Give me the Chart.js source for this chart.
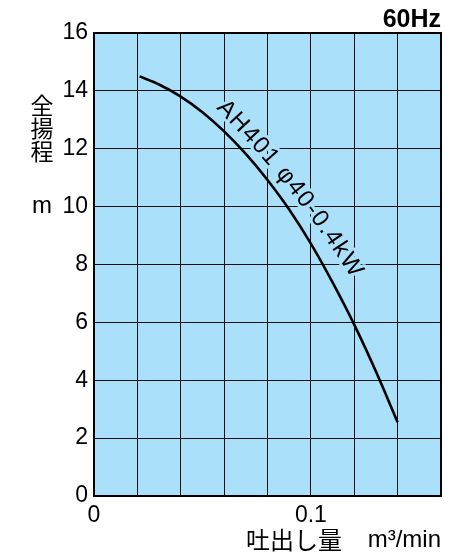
<!DOCTYPE html>
<html>
<head>
<meta charset="utf-8">
<script src="https://cdn.jsdelivr.net/npm/chart.js@4.4.1/dist/chart.umd.min.js"></script>
<style>
html,body{margin:0;padding:0;background:#fff;}
#wrap{width:460px;height:557px;position:relative;}
</style>
</head>
<body>
<div id="wrap"><canvas id="c" width="460" height="557"></canvas></div>
<script>
// ---- data ----
const flowX = [0.021, 0.03, 0.04, 0.05, 0.06, 0.07, 0.08, 0.09, 0.10, 0.11, 0.12, 0.13, 0.14];
const headY = [14.5, 14.22, 13.8, 13.26, 12.6, 11.82, 10.92, 9.9, 8.72, 7.38, 5.92, 4.3, 2.55];
const xLabelTicks = [0, 0.1];
const xLabelTexts = ['0', '0.1'];
const seriesLabel = 'AH401 φ40-0.4kW';
const yTitleChars = ['全', '揚', '程'];
const yUnit = 'm';
const xTitle = '吐出し量';
const xUnit = 'm³/min';
const freqLabel = '60Hz';

const BG = 'rgb(170,224,249)';
const LATIN = '"Liberation Sans", Arial, sans-serif';
const CJK = '"Noto Sans CJK JP", sans-serif';

const points = flowX.map((x, i) => ({x: x, y: headY[i]}));

const decor = {
  id: 'decor',
  beforeDraw(chart) {
    const {ctx, chartArea: a} = chart;
    ctx.save();
    ctx.fillStyle = BG;
    ctx.fillRect(a.left, a.top, a.right - a.left, a.bottom - a.top);
    ctx.restore();
  },
  beforeDatasetsDraw(chart) {
    const {ctx, scales} = chart;
    let px = scales.x.getPixelForValue(0.0562);
    let py = scales.y.getPixelForValue(13.40);
    const chars = Array.from(seriesLabel);
    const t0 = 46 * Math.PI / 180, t1 = 57 * Math.PI / 180;
    const sp = 1.4;
    ctx.save();
    ctx.font = '24px ' + LATIN;
    ctx.textBaseline = 'alphabetic';
    ctx.textAlign = 'left';
    ctx.lineJoin = 'round';
    chars.forEach((ch, i) => {
      const th = t0 + (t1 - t0) * i / (chars.length - 1);
      const w = ctx.measureText(ch).width;
      ctx.save();
      ctx.translate(px, py);
      ctx.rotate(th);
      ctx.strokeStyle = BG;
      ctx.lineWidth = 6;
      ctx.strokeText(ch, 0, 0);
      ctx.fillStyle = '#000';
      ctx.fillText(ch, 0, 0);
      ctx.restore();
      px += (w + sp) * Math.cos(th);
      py += (w + sp) * Math.sin(th);
    });
    ctx.restore();
  },
  afterDraw(chart) {
    const {ctx, chartArea: a} = chart;
    ctx.save();
    ctx.strokeStyle = '#000';
    ctx.lineWidth = 2;
    ctx.strokeRect(a.left, a.top, a.right - a.left, a.bottom - a.top);

    ctx.fillStyle = '#000';
    ctx.font = '23px ' + CJK;
    ctx.textAlign = 'center';
    ctx.textBaseline = 'middle';
    const ys = [105, 128, 151];
    yTitleChars.forEach((c, i) => ctx.fillText(c, 42, ys[i]));
    ctx.font = '24px ' + LATIN;
    ctx.fillText(yUnit, 42, 206);
    ctx.font = 'bold 25px ' + LATIN;
    ctx.textAlign = 'right';
    ctx.textBaseline = 'alphabetic';
    ctx.fillText(freqLabel, a.right, 27);
    ctx.font = '24px ' + CJK;
    ctx.textAlign = 'left';
    ctx.textBaseline = 'middle';
    ctx.fillText(xTitle, 246, 540);
    ctx.font = '24px ' + LATIN;
    ctx.textAlign = 'right';
    ctx.fillText(xUnit, a.right, 540);
    ctx.restore();
  }
};

new Chart(document.getElementById('c'), {
  type: 'line',
  data: {
    datasets: [{
      data: points,
      borderColor: '#000',
      borderWidth: 2.6,
      pointRadius: 0,
      fill: false,
      cubicInterpolationMode: 'monotone'
    }]
  },
  options: {
    responsive: false,
    animation: false,
    devicePixelRatio: 1,
    layout: {padding: {top: 33, right: 19, left: 0, bottom: 0}},
    plugins: {legend: {display: false}, tooltip: {enabled: false}},
    scales: {
      x: {
        type: 'linear',
        min: 0, max: 0.16,
        afterFit(s) { s.height = 61; },
        border: {display: false},
        grid: {color: '#111', lineWidth: 1, drawTicks: false},
        ticks: {
          stepSize: 0.02,
          autoSkip: false,
          maxRotation: 0,
          padding: 6,
          color: '#000',
          font: {family: LATIN, size: 23},
          callback(v) {
            const k = xLabelTicks.findIndex(t => Math.abs(t - v) < 1e-9);
            return k >= 0 ? xLabelTexts[k] : '';
          }
        }
      },
      y: {
        min: 0, max: 16,
        afterFit(s) { s.width = 94; },
        border: {display: false},
        grid: {color: '#111', lineWidth: 1, drawTicks: false},
        ticks: {
          stepSize: 2,
          padding: 6,
          color: '#000',
          font: {family: LATIN, size: 23}
        }
      }
    }
  },
  plugins: [decor]
});
</script>
</body>
</html>
